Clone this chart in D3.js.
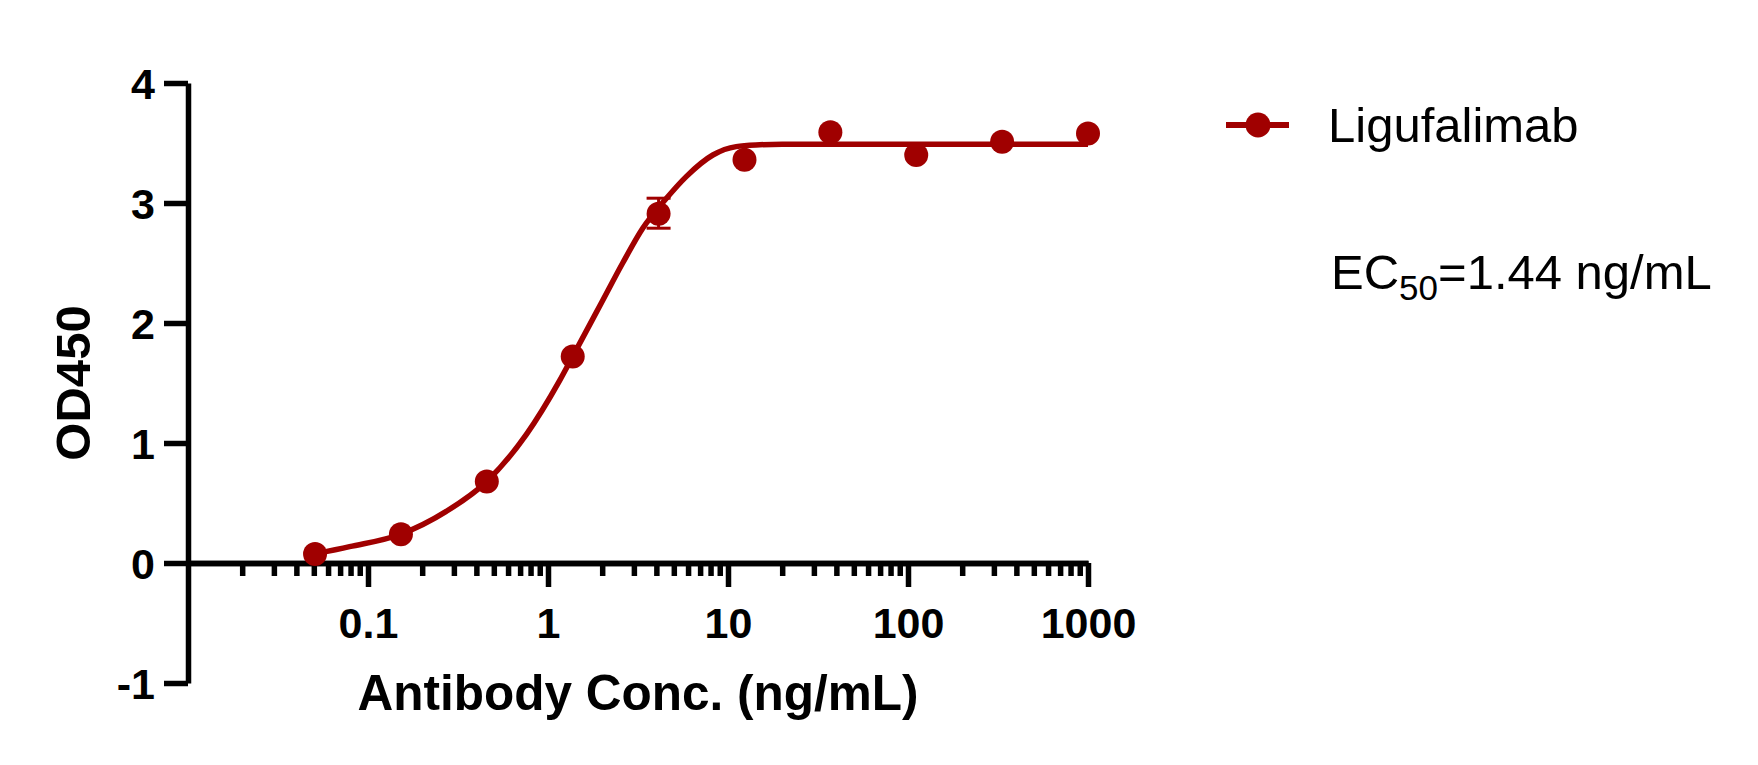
<!DOCTYPE html>
<html>
<head>
<meta charset="utf-8">
<script src="https://cdn.jsdelivr.net/npm/d3@7"></script>
<style>
  body { margin: 0; background: #fff; }
  svg text { font-family: "Liberation Sans", Arial, sans-serif; }
</style>
</head>
<body>
<svg width="1758" height="765"></svg>
<script>
// measured points (3-fold dilution series)
const conc = [1000, 333.3, 111.1, 37.04, 12.35, 4.115, 1.372, 0.4572, 0.1524, 0.0508];
const od450 = [3.58, 3.51, 3.40, 3.59, 3.36, 2.91, 1.72, 0.68, 0.24, 0.075];
const errLow = [3.58, 3.51, 3.40, 3.59, 3.36, 2.79, 1.72, 0.68, 0.24, 0.075];
const errHigh = [3.58, 3.51, 3.40, 3.59, 3.36, 3.04, 1.72, 0.68, 0.24, 0.075];

// fitted curve
const fitX = [0.0508, 0.079, 0.152, 0.272, 0.457, 0.757, 1.16, 1.37, 2.016, 2.60, 3.36, 4.44, 5.86, 8.24, 11.1, 15, 20, 100, 1000];
const fitY = [0.075, 0.136, 0.24, 0.43, 0.68, 1.07, 1.52, 1.72, 2.19, 2.50, 2.79, 3.02, 3.22, 3.40, 3.47, 3.485, 3.49, 3.49, 3.49];

const xMajor = [0.1, 1, 10, 100, 1000];
const xMinor = [];
[0.01, 0.1, 1, 10, 100].forEach(d => { for (let k = 2; k <= 9; k++) xMinor.push(d * k); });
const yTicks = [-1, 0, 1, 2, 3, 4];

const seriesName = "Ligufalimab";
const red = "#a00000";

let svg = d3.select("svg");

let x = d3.scaleLog().domain([0.01, 1000]).range([188, 1088]);
let y = d3.scaleLinear().domain([-1, 4]).range([683, 83]);

function styleAxis(g) {
    g.selectAll("path, line").attr("stroke", "#000").attr("stroke-width", 5.5);
    g.selectAll("text")
        .attr("font-size", 43)
        .attr("font-weight", "bold")
        .attr("fill", "#000");
}

// y axis
svg.append("g")
    .attr("transform", "translate(" + x(0.01) + ",0)")
    .call(d3.axisLeft(y).tickValues(yTicks).tickSize(24).tickSizeOuter(0).tickPadding(9).tickFormat(d => String(d)))
    .call(styleAxis)
    .call(g => g.selectAll("text").attr("dy", "0.37em"));

// x axis (minor ticks)
svg.append("g")
    .attr("transform", "translate(0," + y(0) + ")")
    .call(d3.axisBottom(x).tickValues(xMinor).tickSize(13).tickSizeOuter(0).tickFormat(""))
    .call(styleAxis);

// x axis (major ticks)
svg.append("g")
    .attr("transform", "translate(0," + y(0) + ")")
    .call(d3.axisBottom(x).tickValues(xMajor).tickSize(24).tickSizeOuter(0).tickPadding(20).tickFormat(d => String(d)))
    .call(styleAxis);

// axis titles
svg.append("text")
    .attr("x", (x.range()[0] + x.range()[1]) / 2)
    .attr("y", 710)
    .attr("text-anchor", "middle")
    .attr("font-size", 49.5)
    .attr("font-weight", "bold")
    .text("Antibody Conc. (ng/mL)");

svg.append("text")
    .attr("transform", "translate(90," + (y.range()[0] + y.range()[1]) / 2 + ") rotate(-90)")
    .attr("text-anchor", "middle")
    .attr("font-size", 49)
    .attr("font-weight", "bold")
    .text("OD450");

// fitted curve
let fit = fitX.map((d, i) => [d, fitY[i]]);
let line = d3.line()
    .x(d => x(d[0]))
    .y(d => y(d[1]))
    .curve(d3.curveMonotoneX);

svg.append("path")
    .datum(fit)
    .attr("fill", "none")
    .attr("stroke", red)
    .attr("stroke-width", 5.5)
    .attr("d", line);

// error bars
let pts = conc.map((d, i) => ({ c: d, v: od450[i], lo: errLow[i], hi: errHigh[i] }));
let withErr = pts.filter(d => d.hi - d.lo > 0);
let eb = svg.append("g").attr("stroke", red).attr("stroke-width", 3);
eb.append("g").selectAll("line")
    .data(withErr)
    .join("line")
    .attr("x1", d => x(d.c)).attr("x2", d => x(d.c))
    .attr("y1", d => y(d.lo)).attr("y2", d => y(d.hi));
eb.append("g").selectAll("line")
    .data(withErr)
    .join("line")
    .attr("x1", d => x(d.c) - 12).attr("x2", d => x(d.c) + 12)
    .attr("y1", d => y(d.lo)).attr("y2", d => y(d.lo));
eb.append("g").selectAll("line")
    .data(withErr)
    .join("line")
    .attr("x1", d => x(d.c) - 12).attr("x2", d => x(d.c) + 12)
    .attr("y1", d => y(d.hi)).attr("y2", d => y(d.hi));

// points
svg.append("g")
    .selectAll("circle")
    .data(pts)
    .join("circle")
    .attr("cx", d => x(d.c))
    .attr("cy", d => y(d.v))
    .attr("r", 12)
    .attr("fill", red);

// legend
let lg = svg.append("g").attr("transform", "translate(1226,125)");
lg.append("line")
    .attr("x1", 0).attr("x2", 63)
    .attr("stroke", red).attr("stroke-width", 6);
lg.append("circle").attr("cx", 32).attr("r", 12.5).attr("fill", red);
lg.append("text")
    .attr("x", 102).attr("y", 17)
    .attr("font-size", 49)
    .text(seriesName);

// EC50 note
let ec = svg.append("text")
    .attr("x", 1331).attr("y", 289)
    .attr("font-size", 49);
ec.append("tspan").text("EC");
ec.append("tspan").attr("font-size", 35).attr("dy", 11).text("50");
ec.append("tspan").attr("dy", -11).text("=1.44 ng/mL");
</script>
</body>
</html>
